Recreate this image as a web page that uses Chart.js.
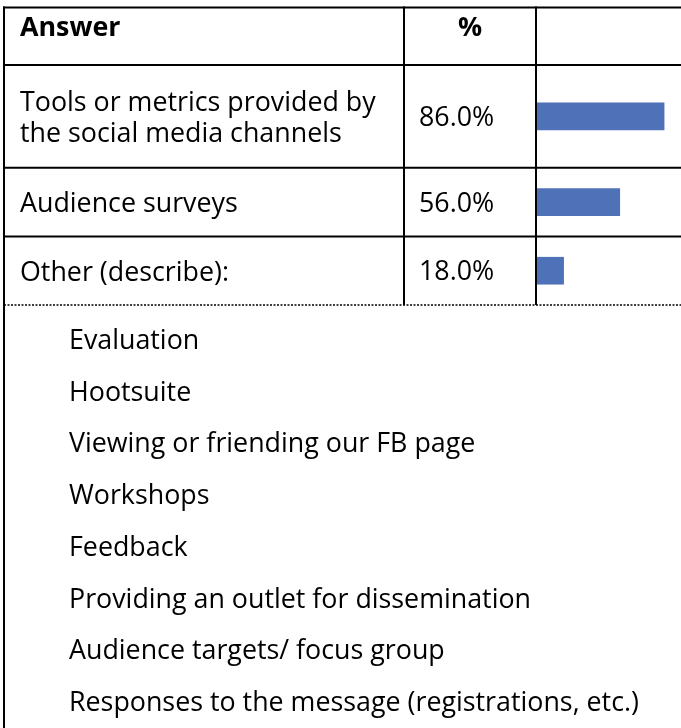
<!DOCTYPE html>
<html>
<head>
<meta charset="utf-8">
<script src="https://cdn.jsdelivr.net/npm/chart.js@4"></script>
<style>
  html, body { margin: 0; padding: 0; background: #ffffff; }
  #wrap { width: 681px; height: 728px; }
</style>
</head>
<body>
<div id="wrap"><canvas id="chart" width="681" height="728"></canvas></div>
<script>
// table header
const headers = ['Answer', '%'];

// each answer, split into the lines shown in its cell
const answers = [
  ['Tools or metrics provided by', 'the social media channels'],
  ['Audience surveys'],
  ['Other (describe):']
];

// share of respondents (%)
const percents = [86.0, 56.0, 18.0];

// write-in responses listed under "Other"
const otherResponses = [
  'Evaluation',
  'Hootsuite',
  'Viewing or friending our FB page',
  'Workshops',
  'Feedback',
  'Providing an outlet for dissemination',
  'Audience targets/ focus group',
  'Responses to the message (registrations, etc.)'
];

// a row is one unit taller than its number of text lines
const rowUnits = answers.map(lines => lines.length + 1);
const rowStarts = [];
let total = 0;
for (let u of rowUnits) {
  rowStarts.push(total);
  total += u;
}
const rowCenters = rowUnits.map((u, i) => rowStarts[i] + u / 2);

const FONT = '"Open Sans", "Noto Sans", sans-serif';
// size the body font so two long lines together match the original widths
function fitFontSize(ctx) {
  ctx.font = '100px ' + FONT;
  let w = ctx.measureText(answers[0][0]).width +
          ctx.measureText(otherResponses[otherResponses.length - 1]).width;
  return 100 * (347 + 579) / w;
}

// draws the table rules and all of the cell text around the bars
const tablePlugin = {
  id: 'tablePlugin',
  beforeDraw(chart) {
    const ctx = chart.ctx;
    ctx.save();
    ctx.fillStyle = '#ffffff';
    ctx.fillRect(0, 0, chart.width, chart.height);
    ctx.restore();
  },
  afterDraw(chart) {
    const ctx = chart.ctx;
    const area = chart.chartArea;
    const y = chart.scales.y;
    const W = chart.width;
    const H = chart.height;
    const fs = fitFontSize(ctx);
    const top = 7.5;
    const leftX = 4;
    const colX = 404;
    const barColX = area.left - 1;
    const bottom = y.getPixelForValue(total);

    ctx.save();
    ctx.strokeStyle = '#000000';
    ctx.lineWidth = 2;
    ctx.lineCap = 'butt';

    // horizontal rules
    let hs = [top, y.getPixelForValue(0)];
    for (let i = 1; i < rowStarts.length; i++) hs.push(y.getPixelForValue(rowStarts[i]));
    for (let h of hs) {
      ctx.beginPath();
      ctx.moveTo(leftX - 1, h);
      ctx.lineTo(W, h);
      ctx.stroke();
    }
    // column rules
    for (let x of [colX, barColX]) {
      ctx.beginPath();
      ctx.moveTo(x, top - 1);
      ctx.lineTo(x, bottom);
      ctx.stroke();
    }
    // left border runs to the bottom of the page
    ctx.beginPath();
    ctx.moveTo(leftX, top - 1);
    ctx.lineTo(leftX, H);
    ctx.stroke();

    // dotted rule below the last row
    ctx.lineWidth = 1.5;
    ctx.setLineDash([2, 1.5]);
    ctx.beginPath();
    ctx.moveTo(leftX, bottom);
    ctx.lineTo(W, bottom);
    ctx.stroke();
    ctx.setLineDash([]);

    // header text
    ctx.fillStyle = '#000000';
    ctx.textBaseline = 'alphabetic';
    ctx.font = 'bold ' + fs + 'px ' + FONT;
    ctx.textAlign = 'left';
    ctx.fillText(headers[0], 20, 36);
    ctx.textAlign = 'center';
    ctx.fillText(headers[1], (colX + barColX) / 2, 36);

    // rows
    ctx.font = fs + 'px ' + FONT;
    const lineH = 31;
    answers.forEach((lines, i) => {
      const c = y.getPixelForValue(rowCenters[i]);
      ctx.textAlign = 'left';
      lines.forEach((t, j) => {
        ctx.fillText(t, 20, c + 10 + (j - (lines.length - 1) / 2) * lineH);
      });
      ctx.fillText(percents[i].toFixed(1) + '%', 419, c + 9.5);
    });

    // write-in list
    otherResponses.forEach((t, i) => {
      ctx.fillText(t, 69, 349 + i * 51.7);
    });
    ctx.restore();
  }
};

const data = {
  datasets: [{
    data: percents.map((p, i) => ({ x: p, y: rowCenters[i] })),
    backgroundColor: '#4f71b8',
    borderWidth: 0,
    barThickness: 27
  }]
};

const config = {
  type: 'bar',
  data: data,
  options: {
    indexAxis: 'y',
    responsive: false,
    animation: false,
    layout: {
      padding: { left: 537, right: 11, top: 65, bottom: 423 }
    },
    plugins: {
      legend: { display: false },
      tooltip: { enabled: false }
    },
    scales: {
      x: { type: 'linear', min: 0, max: 90, display: false },
      y: { type: 'linear', min: 0, max: total, reverse: true, offset: false, display: false }
    }
  },
  plugins: [tablePlugin]
};

new Chart(document.getElementById('chart'), config);
</script>
</body>
</html>
